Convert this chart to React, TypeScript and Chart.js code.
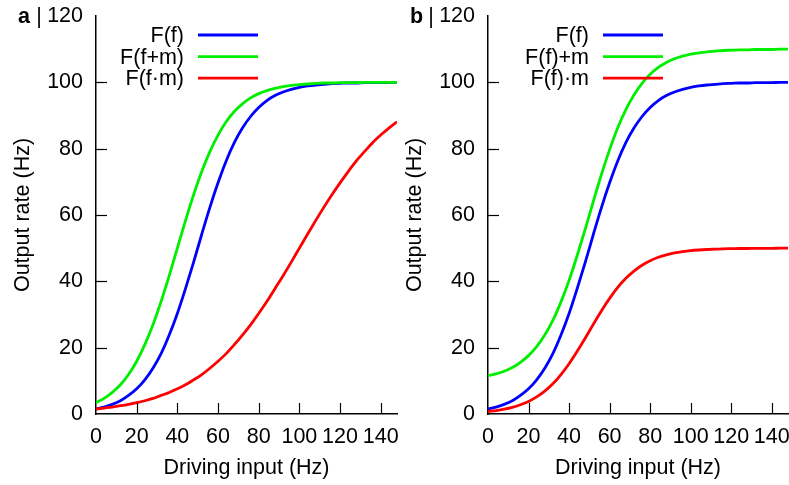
import React, { useEffect, useRef } from "react";
import { Chart, registerables } from "chart.js";

Chart.register(...registerables);

// ---------- data ----------
const drivingInput = [
  0, 4, 8, 12, 16, 20, 24, 28, 32, 36, 40, 44, 48, 52, 56, 60, 64, 68, 72, 76,
  80, 84, 88, 92, 96, 100, 104, 108, 112, 116, 120, 124, 128, 132, 136, 140, 144, 148,
];

// panel a
const aF = [
  1.5, 2.1, 2.9, 4.0, 5.6, 7.6, 10.3, 13.8, 18.2, 23.8, 30.3, 37.8, 45.8, 54.2, 62.3, 69.7, 76.3, 81.8, 86.2, 89.7,
  92.4, 94.5, 96.0, 97.1, 97.9, 98.5, 98.9, 99.2, 99.4, 99.6, 99.7, 99.8, 99.8, 99.9, 99.9, 99.9, 100, 100,
];
const aFplusM = [
  3.4, 4.7, 6.5, 8.8, 11.9, 15.9, 20.9, 26.9, 33.9, 41.7, 50.0, 58.3, 66.1, 73.1, 79.1, 84.1, 88.1, 91.2, 93.5, 95.3,
  96.6, 97.5, 98.2, 98.7, 99.1, 99.3, 99.5, 99.7, 99.8, 99.8, 99.9, 99.9, 99.9, 100, 100, 100, 100, 100,
];
const aFtimesM = [
  1.5, 1.8, 2.1, 2.5, 2.9, 3.4, 4.0, 4.7, 5.6, 6.5, 7.6, 8.8, 10.3, 11.9, 13.8, 15.9, 18.2, 20.9, 23.8, 26.9,
  30.3, 33.9, 37.8, 41.7, 45.8, 50.0, 54.2, 58.3, 62.3, 66.1, 69.7, 73.1, 76.3, 79.1, 81.8, 84.1, 86.2, 88.1,
];

// panel b
const bF = [
  1.5, 2.1, 2.9, 4.0, 5.6, 7.6, 10.3, 13.8, 18.2, 23.8, 30.3, 37.8, 45.8, 54.2, 62.3, 69.7, 76.3, 81.8, 86.2, 89.7,
  92.4, 94.5, 96.0, 97.1, 97.9, 98.5, 98.9, 99.2, 99.4, 99.6, 99.7, 99.8, 99.8, 99.9, 99.9, 99.9, 100, 100,
];
const bFplusM = [
  11.5, 12.1, 12.9, 14.0, 15.6, 17.6, 20.3, 23.8, 28.2, 33.8, 40.3, 47.8, 55.8, 64.2, 72.3, 79.7, 86.3, 91.8, 96.2, 99.7,
  102.4, 104.5, 106.0, 107.1, 107.9, 108.5, 108.9, 109.2, 109.4, 109.6, 109.7, 109.8, 109.8, 109.9, 109.9, 109.9, 110, 110,
];
const bFtimesM = [
  0.75, 1.05, 1.45, 2.0, 2.8, 3.8, 5.15, 6.9, 9.1, 11.9, 15.15, 18.9, 22.9, 27.1, 31.15, 34.85, 38.15, 40.9, 43.1, 44.85,
  46.2, 47.25, 48.0, 48.55, 48.95, 49.25, 49.45, 49.6, 49.7, 49.8, 49.85, 49.9, 49.9, 49.95, 49.95, 49.95, 50, 50,
];

const labelsA = ["F(f)", "F(f+m)", "F(f\u00B7m)"];
const labelsB = ["F(f)", "F(f)+m", "F(f)\u00B7m"];
const panelLetters = ["a", "b"];

const X_MIN = 0;
const X_MAX = 148;
const X_STEP = 20;
const Y_MIN = 0;
const Y_MAX = 120;
const Y_STEP = 20;
const X_TITLE = "Driving input (Hz)";
const Y_TITLE = "Output rate (Hz)";

// ---------- styles ----------
const FONT = "'Liberation Sans', Arial, Helvetica, sans-serif";
const FONT_SIZE = 21.5;
const COLORS = ["#0000ff", "#00ee00", "#ff0000"];
const LINE_W = 2.8;

const decorPlugin = {
  id: "decor",
  afterDatasetsDraw(chart: any, _args: any, opts: any) {
    const ctx = chart.ctx as CanvasRenderingContext2D;
    const xs = chart.scales.x;
    const ys = chart.scales.y;
    const area = chart.chartArea;
    ctx.save();
    // inward tick marks
    ctx.strokeStyle = "#000";
    ctx.lineWidth = 1.2;
    xs.ticks.forEach((t: any) => {
      if (t.value <= X_MIN || t.value >= X_MAX) return;
      const px = Math.round(xs.getPixelForValue(t.value)) + 0.5;
      ctx.beginPath();
      ctx.moveTo(px, area.bottom);
      ctx.lineTo(px, area.bottom - 11);
      ctx.stroke();
    });
    ys.ticks.forEach((t: any) => {
      if (t.value <= Y_MIN || t.value >= Y_MAX) return;
      const py = Math.round(ys.getPixelForValue(t.value)) + 0.5;
      ctx.beginPath();
      ctx.moveTo(area.left, py);
      ctx.lineTo(area.left + 11, py);
      ctx.stroke();
    });
    // key
    ctx.font = `${FONT_SIZE}px ${FONT}`;
    ctx.textAlign = "right";
    ctx.textBaseline = "middle";
    chart.data.datasets.forEach((ds: any, i: number) => {
      const ry = opts.keyTop + i * opts.keyStep;
      ctx.fillStyle = "#000";
      ctx.fillText(ds.label, opts.textRight, ry + 1);
      ctx.strokeStyle = ds.borderColor;
      ctx.lineWidth = LINE_W;
      ctx.beginPath();
      ctx.moveTo(opts.lineFrom, ry);
      ctx.lineTo(opts.lineTo, ry);
      ctx.stroke();
    });
    // panel letter
    const yTop = ys.getPixelForValue(Y_MAX);
    ctx.fillStyle = "#000";
    ctx.textAlign = "left";
    ctx.font = `bold ${FONT_SIZE}px ${FONT}`;
    ctx.fillText(opts.letter, 18, yTop + 1);
    ctx.font = `${FONT_SIZE}px ${FONT}`;
    ctx.textAlign = "center";
    ctx.fillText("|", 39, yTop + 1);
    ctx.restore();
  },
};

function makeConfig(series: number[][], labels: string[], letter: string, key: any, padRight: number): any {
  return {
    type: "line",
    data: {
      datasets: series.map((arr, i) => ({
        label: labels[i],
        data: drivingInput.map((x, j) => ({ x, y: arr[j] })),
        borderColor: COLORS[i],
        backgroundColor: COLORS[i],
        borderWidth: LINE_W,
        pointRadius: 0,
        fill: false,
        cubicInterpolationMode: "monotone",
        order: 2 - i,
      })),
    },
    options: {
      responsive: false,
      animation: false,
      devicePixelRatio: 1,
      layout: { padding: { left: 0, right: padRight, top: 16, bottom: 0 } },
      plugins: {
        legend: { display: false },
        tooltip: { enabled: false },
        decor: { letter, ...key },
      },
      scales: {
        x: {
          type: "linear",
          min: X_MIN,
          max: X_MAX,
          grid: { display: false, drawTicks: false },
          border: { display: true, color: "#000", width: 1.5 },
          ticks: {
            stepSize: X_STEP,
            includeBounds: false,
            autoSkip: false,
            maxRotation: 0,
            minRotation: 0,
            padding: 10,
            color: "#000",
            font: { family: FONT, size: FONT_SIZE },
          },
          title: {
            display: true,
            text: X_TITLE,
            color: "#000",
            font: { family: FONT, size: FONT_SIZE },
            padding: { top: 0, bottom: 4 },
          },
          afterFit: (s: any) => {
            s.height = 71;
            s.paddingLeft = 0;
            s.paddingRight = 0;
          },
        },
        y: {
          type: "linear",
          min: Y_MIN,
          max: Y_MAX,
          grid: { display: false, drawTicks: false },
          border: { display: true, color: "#000", width: 1.5 },
          ticks: {
            stepSize: Y_STEP,
            autoSkip: false,
            padding: 13,
            color: "#000",
            font: { family: FONT, size: FONT_SIZE },
          },
          title: {
            display: true,
            text: Y_TITLE,
            color: "#000",
            font: { family: FONT, size: FONT_SIZE },
            padding: { top: 10, bottom: 0 },
          },
          afterFit: (s: any) => {
            s.width = 96;
            s.paddingTop = 0;
            s.paddingBottom = 0;
          },
        },
      },
    },
    plugins: [decorPlugin],
  };
}

function Panel(props: { left: number; width: number; config: any }) {
  const ref = useRef<HTMLCanvasElement>(null);
  useEffect(() => {
    if (!ref.current) return;
    const chart = new Chart(ref.current, props.config);
    return () => chart.destroy();
  }, []);
  return (
    <canvas
      ref={ref}
      width={props.width}
      height={485}
      style={{ position: "absolute", left: props.left, top: 0, width: props.width, height: 485 }}
    />
  );
}

export default function App() {
  const cfgA = makeConfig([aF, aFplusM, aFtimesM], labelsA, panelLetters[0], {
    keyTop: 35, keyStep: 21.6, textRight: 184, lineFrom: 198, lineTo: 258,
  }, 3);
  const cfgB = makeConfig([bF, bFplusM, bFtimesM], labelsB, panelLetters[1], {
    keyTop: 35, keyStep: 21.6, textRight: 197, lineFrom: 211, lineTo: 271,
  }, 1);
  return (
    <div style={{ position: "fixed", left: 0, top: 0, width: 789, height: 485, background: "#fff", overflow: "hidden" }}>
      <Panel left={0} width={400} config={cfgA} />
      <Panel left={392} width={397} config={cfgB} />
    </div>
  );
}
